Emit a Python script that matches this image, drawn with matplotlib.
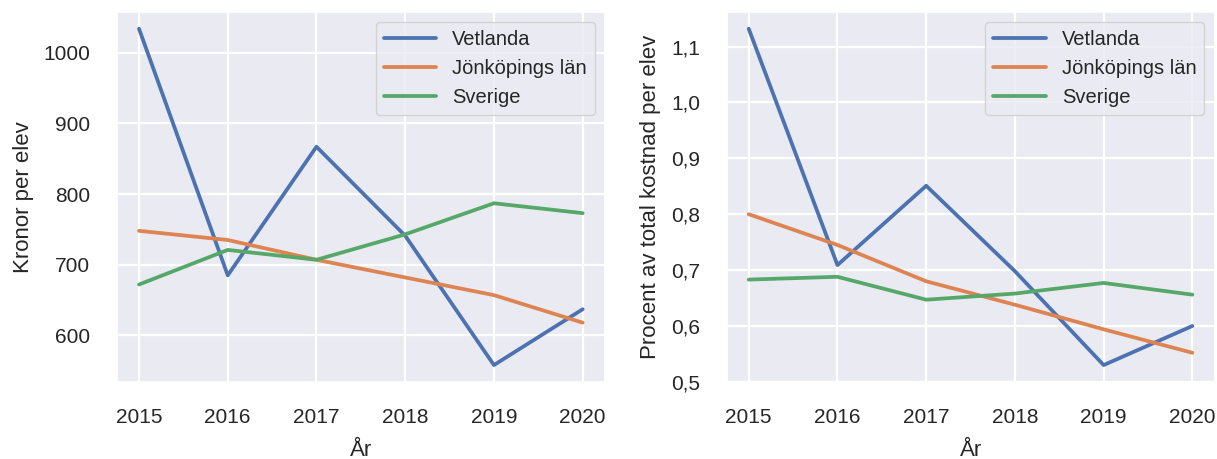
import matplotlib
matplotlib.use("Agg")
import matplotlib.pyplot as plt
from matplotlib.ticker import FuncFormatter
import seaborn as sns

# data
years = [2015, 2016, 2017, 2018, 2019, 2020]
series_names = ["Vetlanda", "Jönköpings län", "Sverige"]

kronor_vetlanda = [1034, 685, 867, 741, 558, 637]
kronor_jonkoping = [748, 735, 707, 682, 657, 618]
kronor_sverige = [672, 721, 707, 743, 787, 773]

procent_vetlanda = [1.132, 0.709, 0.851, 0.698, 0.530, 0.600]
procent_jonkoping = [0.800, 0.745, 0.680, 0.638, 0.594, 0.552]
procent_sverige = [0.683, 0.688, 0.647, 0.658, 0.677, 0.656]

sns.set_theme(style="darkgrid")
plt.rcParams['font.family'] = ['Liberation Sans', 'DejaVu Sans']
plt.rcParams['grid.linewidth'] = 1.6

fig = plt.figure(figsize=(12.17, 4.59), dpi=100)
ax1 = fig.add_axes([0.096, 0.168, 0.401, 0.806])
ax2 = fig.add_axes([0.597, 0.168, 0.401, 0.806])

for ax, data, ylabel in [
    (ax1, [kronor_vetlanda, kronor_jonkoping, kronor_sverige], "Kronor per elev"),
    (ax2, [procent_vetlanda, procent_jonkoping, procent_sverige], "Procent av total kostnad per elev"),
]:
    for name, vals in zip(series_names, data):
        ax.plot(years, vals, linewidth=2.7, label=name)
    ax.set_xlabel("År", fontsize=16, labelpad=9)
    ax.set_ylabel(ylabel, fontsize=16, labelpad=7)
    ax.set_xticks(years)
    ax.tick_params(labelsize=15, pad=13)
    ax.legend(loc="upper right", fontsize=14.5, handlelength=2.6)

ax2.yaxis.set_major_formatter(FuncFormatter(lambda v, p: f"{v:.1f}".replace(".", ",")))

fig.savefig("out.png", dpi=100)
